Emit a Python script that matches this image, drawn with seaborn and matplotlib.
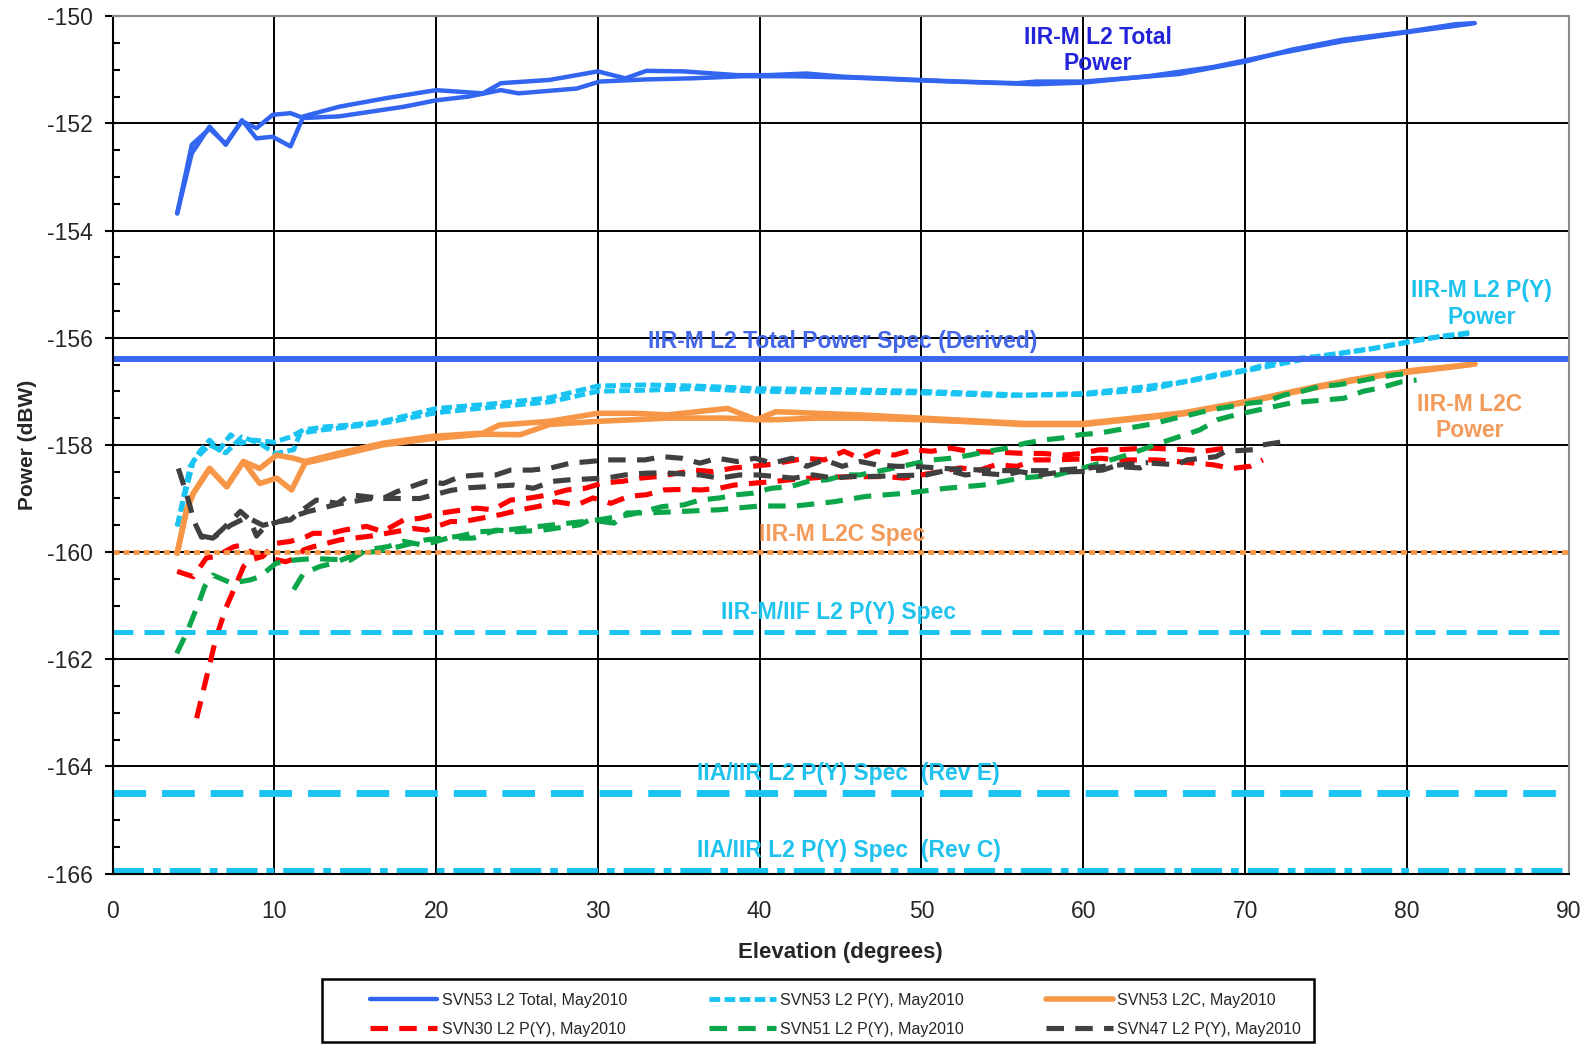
import numpy as np
import pandas as pd
import seaborn as sns
import matplotlib
matplotlib.use("Agg")
from matplotlib import pyplot as plt
from matplotlib.patches import Rectangle
from matplotlib.ticker import MultipleLocator

sns.set_theme(style="white")
plt.rcParams["font.family"] = ["Liberation Sans", "DejaVu Sans"]
plt.rcParams["axes.unicode_minus"] = False

# --- values: elevation (deg) / power (dBW), two passes each ---
total_a_el = [4, 4.9, 6, 7, 8, 8.9, 9.9, 11, 11.8, 14, 16.9, 20, 22.9, 24, 27, 30, 31.7, 33, 35.3, 38.6,
              40.5, 42.9, 45.2, 47.6, 49.9, 52.3, 55.9, 57.1, 60, 63, 65.9, 70, 72.8, 76, 80, 83, 84.2]
total_a_db = [-153.68, -152.56, -152.06, -152.4, -151.94, -152.28, -152.25, -152.43, -151.87, -151.69,
              -151.53, -151.38, -151.44, -151.25, -151.19, -151.03, -151.16, -151.02, -151.03, -151.1,
              -151.1, -151.07, -151.13, -151.16, -151.19, -151.22, -151.25, -151.22, -151.22, -151.15,
              -151.08, -150.85, -150.63, -150.44, -150.29, -150.15, -150.13]
total_b_el = [4, 4.9, 6, 7, 8, 8.9, 9.9, 11, 11.8, 14, 18, 20, 22, 24, 25.1, 28.7, 30.1, 33, 35.8, 39,
              42, 46, 50, 54, 57, 60, 64, 68, 72, 76, 80, 84]
total_b_db = [-153.68, -152.4, -152.1, -152.38, -151.96, -152.09, -151.84, -151.81, -151.9, -151.87,
              -151.69, -151.57, -151.5, -151.38, -151.44, -151.35, -151.22, -151.18, -151.16, -151.12,
              -151.12, -151.15, -151.2, -151.24, -151.27, -151.24, -151.12, -150.95, -150.7, -150.47,
              -150.3, -150.14]

py53_a_el = [4, 4.4, 4.8, 5.4, 6, 6.6, 7.3, 7.9, 8.7, 10, 11, 11.8, 13.2, 14.7, 16.7, 20, 24, 27, 30, 33,
             36, 40, 45.6, 50, 53.8, 56.3, 60, 63.1, 66.2, 68.2, 70.1, 72.4, 74.4, 76.5, 78.5, 80.6, 82.7, 84]
py53_a_db = [-159.52, -158.96, -158.4, -158.12, -157.91, -158.1, -157.81, -157.97, -157.91, -157.95,
             -157.85, -157.72, -157.66, -157.63, -157.56, -157.32, -157.22, -157.12, -156.9, -156.88,
             -156.9, -156.95, -156.97, -157.0, -157.04, -157.07, -157.04, -156.94, -156.82, -156.69,
             -156.6, -156.41, -156.35, -156.26, -156.17, -156.04, -155.95, -155.9]
py53_b_el = [4, 4.5, 5, 6, 7, 8, 9.1, 9.7, 10.1, 11.2, 11.6, 13, 15, 17, 20, 24, 27, 30, 33, 36, 40, 45,
             50, 55, 60, 64, 66, 70, 74, 78, 82, 84]
py53_b_db = [-159.52, -158.9, -158.3, -158.0, -158.15, -157.85, -157.97, -158.09, -158.16, -158.09,
             -157.78, -157.72, -157.65, -157.58, -157.4, -157.28, -157.2, -157.0, -156.98, -156.95,
             -157.0, -157.02, -157.03, -157.08, -157.06, -156.97, -156.84, -156.62, -156.38, -156.2,
             -155.98, -155.92]

l2c_a_el = [4, 4.58, 5, 6, 7.06, 8.09, 9.1, 10.15, 11.2, 11.9, 13.9, 16.7, 19.8, 22.9, 23.9, 27, 30, 32.2,
            34.3, 38, 39.8, 41, 43.5, 46.2, 50, 53.8, 56.3, 60, 63.1, 66.2, 68.2, 70.1, 72.4, 74.4, 76.5,
            78.5, 80.6, 82.7, 84.2]
l2c_a_db = [-160.02, -159.21, -158.9, -158.44, -158.78, -158.31, -158.44, -158.19, -158.25, -158.31,
            -158.16, -157.97, -157.84, -157.78, -157.63, -157.56, -157.41, -157.41, -157.44, -157.32,
            -157.53, -157.38, -157.41, -157.44, -157.5, -157.56, -157.6, -157.6, -157.5, -157.4, -157.29,
            -157.19, -157.04, -156.91, -156.79, -156.69, -156.6, -156.54, -156.49]
l2c_b_el = [4, 4.58, 5, 6, 7.06, 8.09, 9.1, 10.15, 11.07, 11.9, 13.9, 16.7, 19.8, 22.9, 25.2, 27, 30, 32.2,
            34.3, 38, 39.8, 41, 43.5, 46.2, 50, 53.8, 56.3, 60, 63.1, 66.2, 70.1, 74.4, 78.5, 82.7, 84.2]
l2c_b_db = [-160.02, -159.21, -158.9, -158.44, -158.78, -158.31, -158.72, -158.62, -158.84, -158.34,
            -158.2, -158.0, -157.88, -157.8, -157.81, -157.62, -157.56, -157.53, -157.5, -157.5, -157.53,
            -157.53, -157.5, -157.5, -157.53, -157.58, -157.62, -157.62, -157.52, -157.42, -157.2,
            -156.93, -156.7, -156.55, -156.49]

svn30_a_el = [4, 5, 5.8, 6.4, 7.5, 8, 8.5, 9.5, 10.7, 11.4, 11.8, 12.4, 14.1, 14.9, 16, 18.6, 19.4, 20.9,
              21.7, 24, 25.2, 26.3, 27.4, 28.7, 29.7, 30.8, 31.9, 33, 34.1, 35.3, 36.4, 37.5, 38.4, 39.8,
              41, 41.9, 44, 47.8, 48.9, 52.4, 53.6, 54.6, 55.9, 57, 58.2, 61.1, 62.1, 63.4, 64.5, 65.8,
              66.8, 68, 69.2, 70.3, 71.1]
svn30_a_db = [-160.36, -160.46, -160.11, -160.08, -159.9, -159.87, -159.99, -160.1, -160.18, -160.11,
              -159.96, -159.9, -159.77, -159.74, -159.7, -159.56, -159.59, -159.43, -159.43, -159.3,
              -159.21, -159.15, -159.06, -159.12, -158.99, -159.09, -158.96, -158.93, -158.84, -158.83,
              -158.84, -158.81, -158.75, -158.71, -158.68, -158.65, -158.6, -158.59, -158.62, -158.43,
              -158.47, -158.37, -158.4, -158.28, -158.28, -158.25, -158.28, -158.28, -158.28, -158.31,
              -158.34, -158.37, -158.44, -158.4, -158.28]
svn30_b_el = [5.2, 5.6, 6, 6.4, 7, 7.4, 8.1, 8.5, 9.3, 10.05, 11, 12, 12.4, 13.5, 14.3, 15.7, 16.7, 18, 19,
              20.2, 21, 22.5, 23.5, 24.6, 25.8, 27, 28.1, 29.2, 30.3, 31.5, 32.6, 33.7, 34.9, 36, 37.1,
              38.4, 39.5, 40.5, 41.7, 42.8, 44, 45.2, 46.2, 47.2, 48.3, 49.5, 50.6, 51.8, 52.9, 55, 56.4,
              57.5, 58.8, 59.9, 61, 62.1, 64, 66.4, 67.4, 68.8, 69.3]
svn30_b_db = [-163.1, -162.6, -162.1, -161.6, -161.05, -160.77, -160.27, -160.15, -160.08, -159.84,
              -159.8, -159.71, -159.65, -159.65, -159.59, -159.52, -159.62, -159.4, -159.37, -159.28,
              -159.24, -159.18, -159.21, -159.03, -158.99, -158.93, -158.84, -158.81, -158.71, -158.68,
              -158.62, -158.59, -158.53, -158.47, -158.5, -158.43, -158.4, -158.37, -158.31, -158.25,
              -158.28, -158.12, -158.25, -158.12, -158.19, -158.09, -158.12, -158.06, -158.12, -158.14,
              -158.16, -158.16, -158.19, -158.16, -158.09, -158.09, -158.06, -158.09, -158.12, -158.06,
              -158.08]

svn51_a_el = [3.97, 4.58, 4.9, 5.4, 5.7, 6.2, 7.36, 8.5, 9.1, 10.1, 11.2, 12.4, 14.7, 15.7, 17, 18, 19.2,
              20.7, 22.3, 23.7, 25, 26.6, 28.9, 29.5, 31, 31.8, 33, 35.3, 37.5, 40, 42.2, 44.6, 46.6, 49.1,
              51.5, 53.8, 56.1, 58.4, 60.7, 62.7, 65, 67.2, 68.3, 69.4, 72.8, 73.8, 75, 76.1, 77.3, 78.3,
              79.7, 80.6]
svn51_a_db = [-161.89, -161.51, -161.27, -160.89, -160.64, -160.43, -160.58, -160.52, -160.46, -160.21,
              -160.15, -160.12, -160.15, -159.96, -159.9, -159.8, -159.87, -159.74, -159.74, -159.59,
              -159.62, -159.59, -159.49, -159.4, -159.46, -159.27, -159.27, -159.24, -159.21, -159.14,
              -159.14, -159.06, -158.96, -158.9, -158.81, -158.75, -158.62, -158.56, -158.37, -158.19,
              -157.94, -157.72, -157.53, -157.44, -157.22, -157.19, -157.16, -157.13, -157.0, -156.94,
              -156.82, -156.79]
svn51_b_el = [11.2, 11.8, 12.8, 13.6, 15, 17, 19.4, 21.3, 22.7, 24, 27, 30, 32, 34, 35.3, 36.3, 37.5,
              38.6, 39.6, 40.7, 41.9, 43, 44.2, 45.3, 46.2, 48, 49.7, 50.7, 51.8, 53, 54.1, 55.3, 56.4,
              57.5, 58.7, 59.8, 61, 62.1, 63.3, 64.4, 65.7, 66.6, 67.8, 69, 70.3, 71.3, 72.4, 73.4, 74.6,
              75.7, 76.9, 77.9, 79.3, 80.4]
svn51_b_db = [-160.7, -160.4, -160.27, -160.21, -160.05, -159.95, -159.77, -159.71, -159.62, -159.6,
              -159.5, -159.4, -159.3, -159.15, -159.12, -159.03, -158.99, -158.93, -158.9, -158.81,
              -158.78, -158.68, -158.65, -158.56, -158.56, -158.45, -158.34, -158.28, -158.25, -158.19,
              -158.12, -158.06, -157.97, -157.91, -157.87, -157.81, -157.78, -157.72, -157.66, -157.6,
              -157.5, -157.44, -157.35, -157.29, -157.22, -157.19, -157.07, -157.01, -156.91, -156.88,
              -156.82, -156.76, -156.69, -156.66]

svn47_a_el = [4.07, 4.4, 4.8, 5, 5.5, 6.2, 7.3, 7.9, 8.5, 8.9, 9.5, 10.3, 12, 14, 16, 19, 20.9, 22, 24.8,
              26, 27.2, 28.3, 30.5, 31.7, 32.8, 34, 36.3, 37.5, 38.8, 39.8, 41, 42.1, 43.3, 44.6, 45.6,
              46.8, 50.3, 51.6, 52.7, 53.8, 55.1, 56.1, 57.3, 58.8, 59.6, 61.2, 61.9, 63.5, 64.1, 65.8,
              66.4, 68.2, 68.8, 70.5, 71.1, 72.8]
svn47_a_db = [-158.44, -158.75, -159.15, -159.4, -159.72, -159.74, -159.43, -159.24, -159.4, -159.7,
              -159.5, -159.43, -159.25, -159.1, -159.0, -159.0, -158.85, -158.8, -158.75, -158.81,
              -158.68, -158.65, -158.62, -158.56, -158.53, -158.52, -158.56, -158.62, -158.56, -158.56,
              -158.59, -158.62, -158.56, -158.62, -158.59, -158.59, -158.56, -158.47, -158.56, -158.53,
              -158.56, -158.5, -158.56, -158.5, -158.5, -158.47, -158.4, -158.43, -158.34, -158.37,
              -158.28, -158.22, -158.12, -158.09, -158.0, -157.92]
svn47_b_el = [5.5, 6.2, 7.3, 8.3, 9.3, 10.3, 11, 11.8, 12.6, 13.9, 14.7, 16.7, 17.6, 19.4, 20.45, 21.5,
              22.7, 23.7, 24.6, 25.9, 27.1, 28.3, 29.5, 30.5, 31.8, 32.9, 34, 35.2, 36.3, 37.4, 38.6, 39.7,
              40.8, 42, 42.9, 44, 45.1, 46.2, 47.2, 48.5, 49.5, 52, 55, 58, 60, 62, 64]
svn47_b_db = [-159.7, -159.74, -159.5, -159.35, -159.5, -159.43, -159.4, -159.2, -159.03, -159.09,
              -158.93, -159.0, -158.87, -158.68, -158.72, -158.59, -158.56, -158.56, -158.47, -158.47,
              -158.43, -158.34, -158.31, -158.28, -158.28, -158.28, -158.22, -158.25, -158.34, -158.25,
              -158.31, -158.25, -158.34, -158.25, -158.4, -158.28, -158.4, -158.31, -158.37, -158.4,
              -158.4, -158.45, -158.48, -158.48, -158.44, -158.38, -158.33]

spec_levels = [-156.4, -160.0, -161.5, -164.5, -165.95]

# (label, passes, color, linewidth, linestyle)
series = [
    ("SVN53 L2 Total, May2010", [(total_a_el, total_a_db), (total_b_el, total_b_db)], "#3366f0", 3.2, "-"),
    ("SVN53 L2 P(Y), May2010", [(py53_a_el, py53_a_db), (py53_b_el, py53_b_db)], "#19c3f2", 3.5, (0, (2.2, 0.9))),
    ("SVN53 L2C, May2010", [(l2c_a_el, l2c_a_db), (l2c_b_el, l2c_b_db)], "#f79646", 4.0, "-"),
    ("SVN30 L2 P(Y), May2010", [(svn30_a_el, svn30_a_db), (svn30_b_el, svn30_b_db)], "#ff0000", 3.7, (0, (3.4, 2.2))),
    ("SVN51 L2 P(Y), May2010", [(svn51_a_el, svn51_a_db), (svn51_b_el, svn51_b_db)], "#0ca64a", 3.7, (0, (3.4, 2.2))),
    ("SVN47 L2 P(Y), May2010", [(svn47_a_el, svn47_a_db), (svn47_b_el, svn47_b_db)], "#404040", 3.7, (0, (3.4, 2.2))),
]

fig, ax = plt.subplots(figsize=(15.89, 10.44), dpi=100)
fig.subplots_adjust(left=0.0708, right=0.9872, bottom=0.1632, top=0.9845)

for label, traces, color, lw, ls in series:
    df = pd.concat(
        [pd.DataFrame({"elevation": el, "power": db, "pass": i}) for i, (el, db) in enumerate(traces)],
        ignore_index=True,
    )
    sns.lineplot(ax=ax, data=df, x="elevation", y="power", units="pass", estimator=None,
                 color=color, linewidth=lw, linestyle=ls, label=label, legend=False)

# spec lines
ax.axhline(spec_levels[0], color="#3a66f0", lw=4.3)
ax.axhline(spec_levels[1], color="#f79646", lw=3.4, ls=(0, (1.28, 0.85)))
ax.axhline(spec_levels[2], color="#19c3f2", lw=3.6, ls=(0, (4.0, 2.2)))
ax.axhline(spec_levels[3], color="#19c3f2", lw=5.0, ls=(0, (4.7, 2.3)))
ax.axhline(spec_levels[4], color="#19c3f2", lw=4.3, ls=(0, (5.2, 1.5, 1.3, 1.5)))

txt = dict(ha="center", va="center", fontsize=16.5, fontweight="bold", linespacing=1.18)
ax.text(60.9, -150.64, "IIR-M L2 Total\nPower", color="#2323d9", **txt)
ax.text(45.1, -156.07, "IIR-M L2 Total Power Spec (Derived)", color="#4266e6", **txt)
ax.text(84.6, -155.37, "IIR-M L2 P(Y)\nPower", color="#1fc3ee", **txt)
ax.text(83.9, -157.49, "IIR-M L2C\nPower", color="#f29b5b", **txt)
ax.text(45.1, -159.68, "IIR-M L2C Spec", color="#f29b5b", **txt)
ax.text(44.9, -161.13, "IIR-M/IIF L2 P(Y) Spec", color="#1fc3ee", **txt)
ax.text(45.5, -164.14, "IIA/IIR L2 P(Y) Spec  (Rev E)", color="#1fc3ee", **txt)
ax.text(45.5, -165.57, "IIA/IIR L2 P(Y) Spec  (Rev C)", color="#1fc3ee", **txt)

ax.set_xlim(0, 90)
ax.set_ylim(-166, -150)
ax.set_xticks(range(0, 91, 10))
ax.set_yticks(range(-166, -149, 2))
ax.yaxis.set_minor_locator(MultipleLocator(0.5))
ax.grid(True, which="major", color="black", linewidth=1.4)
ax.set_axisbelow(True)

ax.tick_params(axis="y", which="major", direction="inout", length=12, width=1.5,
               color="black", labelsize=16.5, pad=8, left=True)
ax.tick_params(axis="y", which="minor", direction="in", length=5, width=1.5,
               color="black", left=True)
ax.tick_params(axis="x", which="major", length=0, labelsize=16.5, pad=19)

for side in ["left", "bottom"]:
    ax.spines[side].set_color("black")
    ax.spines[side].set_linewidth(1.5)
for side in ["top", "right"]:
    ax.spines[side].set_color("#8a8a8a")
    ax.spines[side].set_linewidth(1.5)

ax.set_xlabel("Elevation (degrees)", fontsize=16, fontweight="bold")
ax.set_ylabel("Power (dBW)", fontsize=15, fontweight="bold")
ax.xaxis.set_label_coords(0.5, -0.0798)
ax.yaxis.set_label_coords(-0.052, 0.5)

# one legend entry per series, laid out row by row like the original
handles, labels = ax.get_legend_handles_labels()
by_label = dict(zip(labels, handles))
order = [0, 3, 1, 4, 2, 5]
names = [series[i][0] for i in order]
fig.patches.append(Rectangle((0.2026, 0.002), 0.6243, 0.0603, transform=fig.transFigure,
                             fill=False, edgecolor="black", linewidth=1.8))
fig.legend([by_label[n] for n in names], names, loc="upper left",
           bbox_to_anchor=(0.2328, 0.0488), ncol=3, fontsize=11.5, handlelength=4.2,
           handletextpad=0.3, labelspacing=0.87, columnspacing=5.1,
           frameon=False, borderpad=0, borderaxespad=0)

plt.savefig("out.png", dpi=100)
